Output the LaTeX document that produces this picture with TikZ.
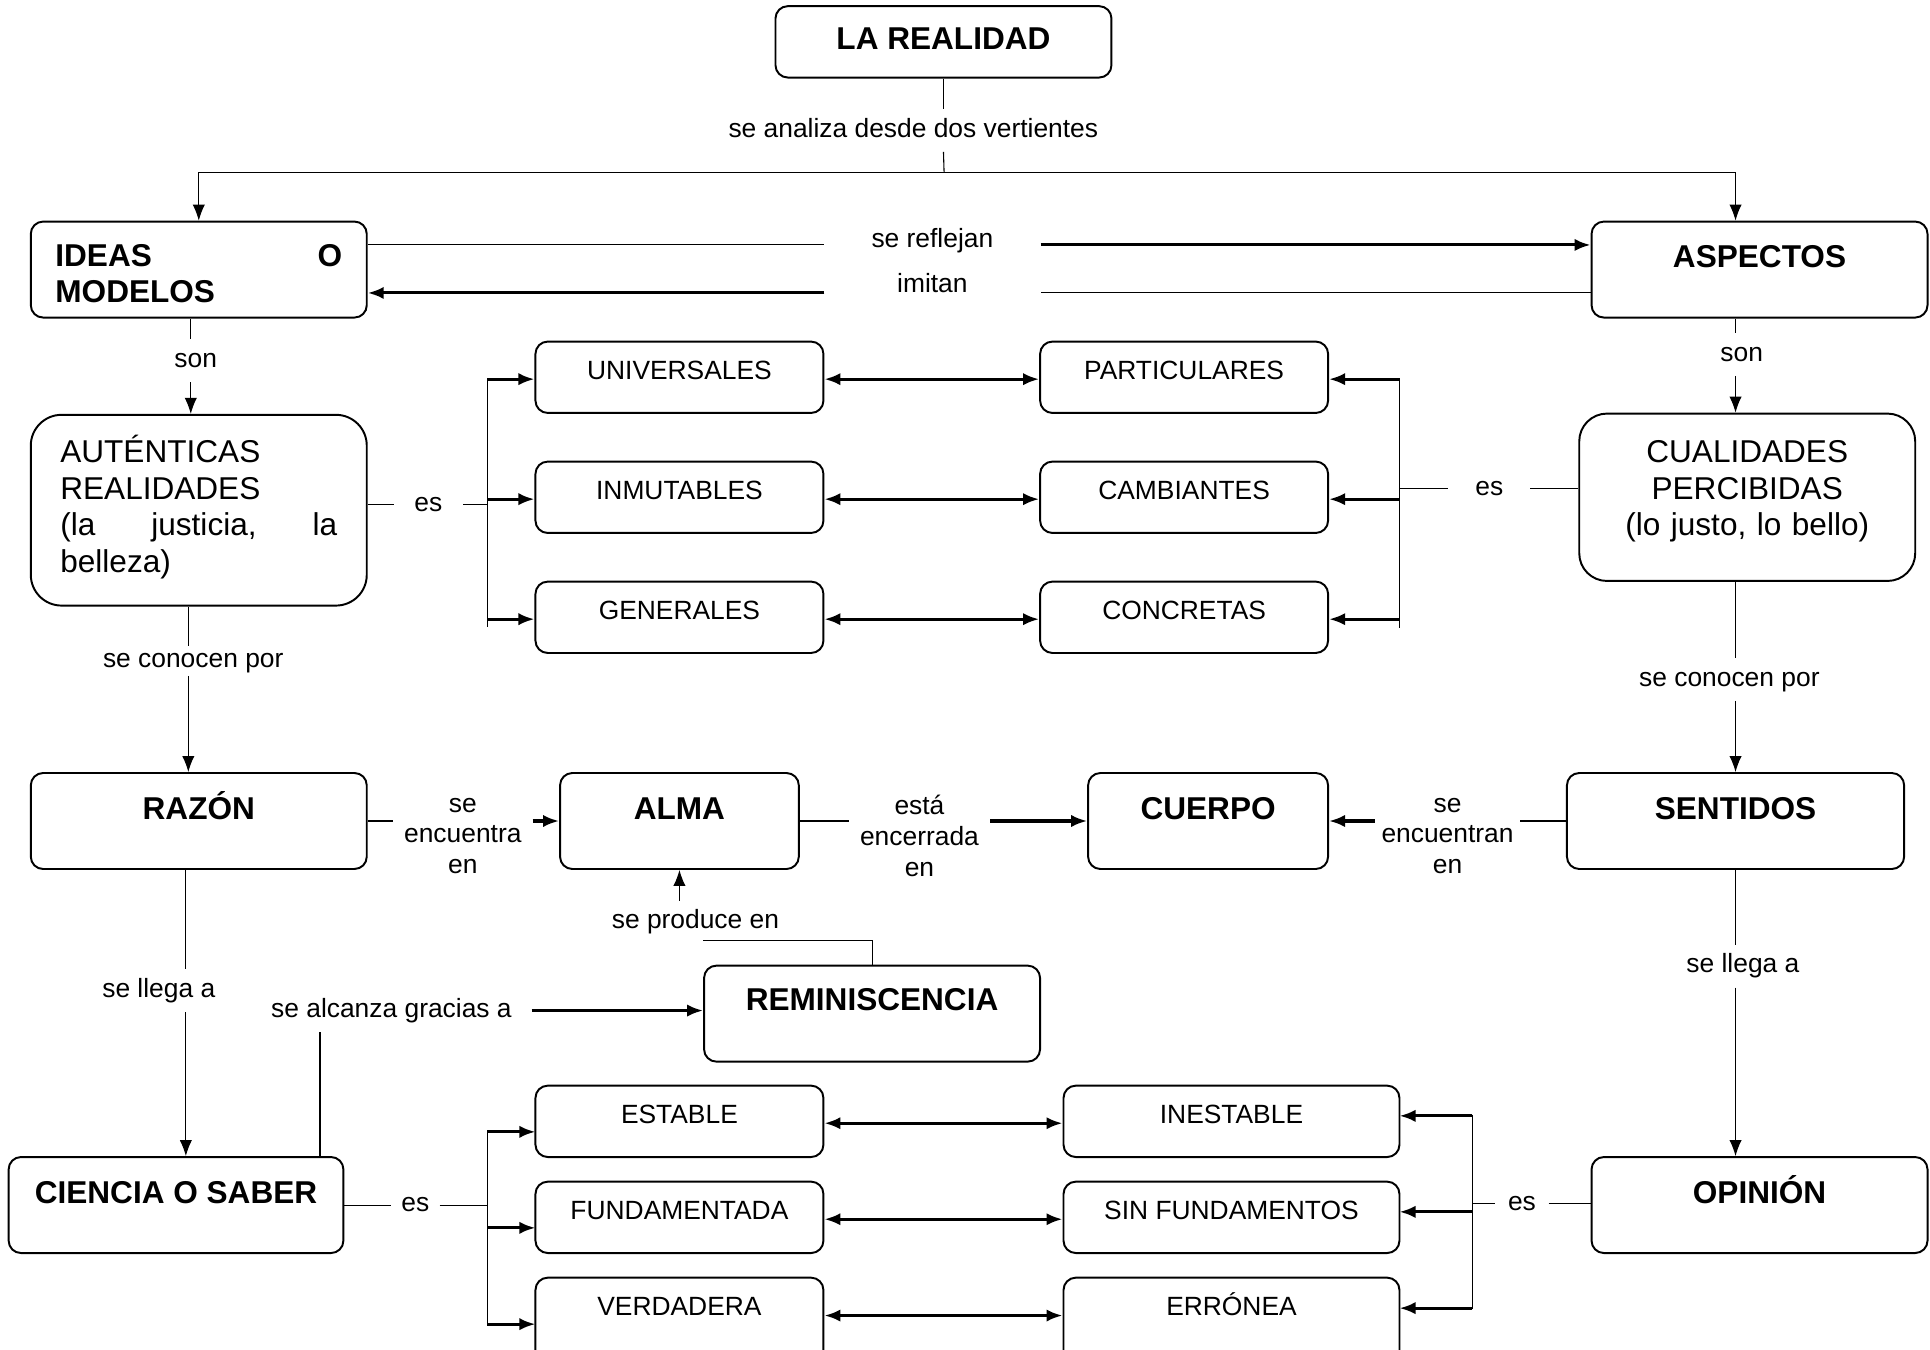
\documentclass[tikz,border=0pt]{standalone}
\usepackage{fontspec}
\setmainfont{Liberation Sans}
\usetikzlibrary{arrows.meta}
\tikzset{>={Latex[length=2.6mm,width=2mm]}}
\newcommand{\lblfont}{\fontsize{12.2}{14.2}\selectfont}
\newcommand{\ttlfont}{\fontsize{14.6}{17}\selectfont\bfseries}
\newcommand{\bigfont}{\fontsize{14.6}{17}\selectfont}

\begin{document}
\begin{tikzpicture}[x=0.02cm, y=-0.02cm,
    frame/.style={draw, line width=0.9pt, rounded corners=0.2cm},
    small/.style={frame, minimum width=4.68cm, minimum height=1.16cm, text height=9pt, text depth=7.25pt, font=\lblfont},
    big/.style={frame, minimum width=5.46cm, minimum height=1.56cm, font=\ttlfont},
    one/.style={text height=10.5pt, text depth=12pt},
    cut/.style={minimum height=1.5cm, text depth=16.65pt},
    txt/.style={inner xsep=5pt, inner ysep=4pt, text height=8.8pt, text depth=2.6pt, font=\lblfont},
    txts/.style={inner xsep=5pt, inner ysep=2pt, align=center, font=\lblfont},
    ln/.style={line width=0.5pt},
    ar/.style={ln, ->},
    tar/.style={line width=1.4pt, ->},
    dar/.style={line width=1.4pt, <->}]
      \useasboundingbox (0,0) rectangle (1568,1096);
      \clip (0,0) rectangle (1568,1096);

      \node[big, one, minimum height=1.16cm, text depth=3.5pt] (Real) at (766.5,34) {LA REALIDAD};
      \node[big, align=left, text width=4.66cm] (Ideas) at (161.5,219) {\rule{0pt}{14pt}IDEAS\hfill O\\MODELOS};
      \node[big, one] (Asp) at (1429.5,219) {ASPECTOS};
      \node[big, font=\bigfont, rounded corners=0.5cm, minimum height=3.1cm, align=left, text width=4.5cm] (Aut) at (161.5,414.5) {AUTÉNTICAS\\REALIDADES\\(la\hfill justicia,\hfill la\\belleza)\\[-11pt]\mbox{}};
      \node[big, font=\bigfont, rounded corners=0.45cm, minimum height=2.72cm, align=center, text width=4.6cm] (Cual) at (1419.5,404) {CUALIDADES\\PERCIBIDAS\\(lo justo, lo bello)\\[-8.6pt]\mbox{}};

      \node[small] (Univ) at (552,306.5) {UNIVERSALES};
      \node[small] (Inm) at (552,404) {INMUTABLES};
      \node[small] (Gen) at (552,501.5) {GENERALES};
      \node[small] (Part) at (962,306.5) {PARTICULARES};
      \node[small] (Camb) at (962,404) {CAMBIANTES};
      \node[small] (Conc) at (962,501.5) {CONCRETAS};

      \node[big, one] (Raz) at (161.5,667) {RAZÓN};
      \node[big, one, minimum width=3.88cm] (Alma) at (552,667) {ALMA};
      \node[big, one, minimum width=3.9cm] (Cuer) at (981.5,667) {CUERPO};
      \node[big, one, minimum width=5.48cm] (Sent) at (1410,667) {SENTIDOS};
      \node[big, one, text depth=13pt] (Rem) at (708.5,823.5) {REMINISCENCIA};
      \node[big, one, minimum width=5.44cm] (Cien) at (143,979) {CIENCIA O SABER};
      \node[big, one] (Opin) at (1429.5,979) {OPINIÓN};

      \node[small] (Est) at (552,911) {ESTABLE};
      \node[small] (Fund) at (552,989) {FUNDAMENTADA};
      \node[small, cut] (Ver) at (552,1075.5) {VERDADERA};
      \node[small, minimum width=5.46cm] (Ines) at (1000.5,911) {INESTABLE};
      \node[small, minimum width=5.46cm] (SinF) at (1000.5,989) {SIN FUNDAMENTOS};
      \node[small, minimum width=5.46cm, cut] (Err) at (1000.5,1075.5) {ERRÓNEA};

      \node[txt] (Anal) at (742,106) {se analiza desde dos vertientes};
      \node[txt, minimum width=3.5cm, inner xsep=0pt] (Refl) at (757.5,196) {se reflejan};
      \node[txt, minimum width=3.5cm, inner xsep=0pt] (Imit) at (757.5,232) {imitan};
      \node[txt] (SonL) at (159,293) {son};
      \node[txt] (SonR) at (1415,288) {son};
      \node[txt, inner xsep=9.4pt] (EsA) at (348,410) {es};
      \node[txt, inner xsep=12.3pt] (EsB) at (1210,397) {es};
      \node[txt, inner ysep=1pt] (ConL) at (157,537) {se conocen por};
      \node[txt] (ConR) at (1405,552) {se conocen por};
      \node[txts] (EncL) at (376,679) {se\\encuentra\\en};
      \node[txts] (EncC) at (747,679) {está\\encerrada\\en};
      \node[txts, inner xsep=3pt] (EncR) at (1176,679) {se\\encuentran\\en};
      \node[txt] (Prod) at (565,749) {se produce en};
      \node[txt] (LlegL) at (129,805) {se llega a};
      \node[txt] (LlegR) at (1416,785) {se llega a};
      \node[txt, inner xsep=9pt] (Alc) at (318,821) {se alcanza gracias a};
      \node[txt, inner xsep=4.6pt] (EsC) at (337.5,979) {es};
      \node[txt, inner xsep=5.7pt] (EsD) at (1236.5,978) {es};

      \coordinate (Split) at (767,140);
      \coordinate (ColA) at (155,0);
      \coordinate (ColB) at (153,0);
      \coordinate (ColC) at (151,0);
      \coordinate (ColR) at (1410,0);
      \coordinate (TA) at (396,0);
      \coordinate (TB) at (1137,0);
      \coordinate (TC) at (396,0);
      \coordinate (TD) at (1196,0);
      \coordinate (Ca) at (260,0);
      \coordinate (Rf) at ([yshift=0.4cm]Ideas.east);
      \coordinate (Im) at ([yshift=-0.38cm]Asp.west);

      \draw[ln] (Real) -- (Real |- Anal.north);
      \draw[ln] (Real |- Anal.south) -- (Split);
      \draw[ar] (Split) -| (Ideas.north);
      \draw[ar] (Split) -| (Asp.north -| ColR);

      \draw[ln] (Rf) -- (Rf -| Refl.west);
      \draw[tar] (Rf -| Refl.east) -- (Rf -| Asp.west);
      \draw[ln] (Im) -- (Im -| Imit.east);
      \draw[tar] (Im -| Imit.west) -- (Im -| Ideas.east);

      \draw[ln] (Ideas.south -| ColA) -- (ColA |- SonL.north);
      \draw[ar] (ColA |- SonL.south) -- (ColA |- Aut.north);
      \draw[ln] (Aut.south -| ColB) -- (ColB |- ConL.north);
      \draw[ar] (ColB |- ConL.south) -- (ColB |- Raz.north);
      \draw[ln] (Raz.south -| ColC) -- (ColC |- LlegL.north);
      \draw[ar] (ColC |- LlegL.south) -- (ColC |- Cien.north);

      \draw[ln] (Asp.south -| ColR) -- (ColR |- SonR.north);
      \draw[ar] (ColR |- SonR.south) -- (ColR |- Cual.north);
      \draw[ln] (Cual.south -| ColR) -- (ColR |- ConR.north);
      \draw[ar] (ColR |- ConR.south) -- (ColR |- Sent.north);
      \draw[ln] (Sent.south -| ColR) -- (ColR |- LlegR.north);
      \draw[ar] (ColR |- LlegR.south) -- (ColR |- Opin.north);

      \draw[ln] (Aut.east |- EsA) -- (EsA);
      \draw[ln] (EsA) -- (EsA -| TA);
      \draw[ln] (TA |- Univ.base) -- (TA |- Gen.base) -- ++(0,6);
      \foreach \n in {Univ,Inm,Gen}
        \draw[tar] (TA |- \n.base) -- (\n.base west);
      \foreach \a/\b in {Univ/Part,Inm/Camb,Gen/Conc}
        \draw[dar] (\a.base east) -- (\b.base west);
      \draw[ln] (TB |- Part.base) -- (TB |- Conc.base) -- ++(0,7);
      \foreach \n in {Part,Camb,Conc}
        \draw[tar] (TB |- \n.base) -- (\n.base east);
      \draw[ln] (TB |- EsB) -- (EsB);
      \draw[ln] (EsB) -- (EsB -| Cual.west);

      \draw[ln] (Raz) -- (Raz -| EncL.west);
      \draw[tar] (Raz -| EncL.east) -- (Alma);
      \draw[ln] (Alma) -- (Alma -| EncC.west);
      \draw[tar] (Alma -| EncC.east) -- (Cuer);
      \draw[ln] (Sent) -- (Sent -| EncR.east);
      \draw[tar] (Sent -| EncR.west) -- (Cuer);

      \draw[ar] (Prod.north -| Alma) -- (Alma);
      \draw[ln] (Rem.north) |- ([yshift=0.4cm]Rem.north west);
      \draw[ln] (Cien.north -| Ca) -- (Ca |- Alc.south);
      \draw[tar] (Alc) -- (Alc -| Rem.west);

      \draw[ln] (Cien.east |- EsC) -- (EsC);
      \draw[ln] (EsC) -- (EsC -| TC);
      \draw[ln] (TC |- Est.base) ++(0,7) -- ++(0,157);
      \foreach \n in {Est,Fund,Ver}
        \draw[tar] (TC |- \n.base) ++(0,7) -- +(39,0);
      \foreach \a/\b in {Est/Ines,Fund/SinF,Ver/Err}
        \draw[dar] (\a.base east) -- (\b.base west);
      \draw[ln] (TD |- Ines.base) ++(0,-7) -- ++(0,158);
      \foreach \n in {Ines,SinF,Err}
        \draw[tar] (TD |- \n.base) ++(0,-6) -- +(-59,0);
      \draw[ln] (TD |- EsD) -- (EsD);
      \draw[ln] (EsD) -- (EsD -| Opin.west);
    \end{tikzpicture}
\end{document}
